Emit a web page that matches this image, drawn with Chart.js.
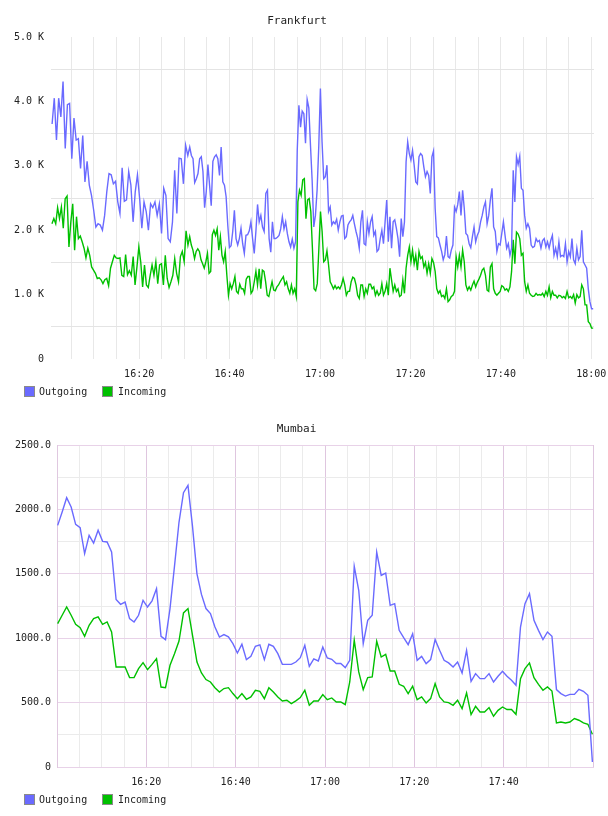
<!DOCTYPE html>
<html>
<head>
<meta charset="utf-8">
<script src="https://cdn.jsdelivr.net/npm/chart.js@4.4.1/dist/chart.umd.min.js"></script>
<style>
    body { margin: 0; background: #fff; width: 608px; height: 816px; position: relative; overflow: hidden; }
    .box { position: absolute; left: 0; width: 608px; height: 382px; }
    .legend { position: absolute; left: 24px; width: 200px; height: 12px; font: 10px "DejaVu Sans Mono", monospace; color: #222; will-change: transform; }
    .legend span { position: absolute; top: 0; white-space: nowrap; line-height: 12px; }
    .legend i { position: absolute; top: 0; width: 9px; height: 9px; border: 1px solid #8a8a8a; }
</style>
</head>
<body>
<div class="box" style="top:0"><canvas id="frankfurt" width="608" height="382"></canvas></div>
<div class="legend" style="top:386px">
    <i style="left:0;background:#6a6aff"></i><span style="left:15px">Outgoing</span>
    <i style="left:78px;background:#00c000"></i><span style="left:94px">Incoming</span>
</div>
<div class="box" style="top:408px"><canvas id="mumbai" width="608" height="382"></canvas></div>
<div class="legend" style="top:794px">
    <i style="left:0;background:#6a6aff"></i><span style="left:15px">Outgoing</span>
    <i style="left:78px;background:#00c000"></i><span style="left:94px">Incoming</span>
</div>
<script>
    // Frankfurt traffic in K, read in four half-hour stretches (minutes after 16:00 in frankfurtBounds)
    const frankfurtBounds = [0.5, 31.0, 61.0, 91.0, 120.6];
    const frankfurtOut1 = [3.65,4.05,3.40,4.05,3.76,4.31,3.27,3.95,3.97,3.11,3.74,3.40,3.42,2.96,3.47,2.75,3.07,2.70,2.54,2.31,2.05,2.10,2.08,2.00,2.23,2.60,2.88,2.86,2.72,2.76,2.44,2.26,2.97,2.45,2.47,2.91,2.70,2.13,2.60,2.86,2.49,2.03,2.44,2.29,2.00,2.41,2.35,2.44,2.23,2.41,1.95,2.65,2.54,1.87,1.82,2.13,2.93,2.26,3.12,3.11,2.72,3.32,3.16];
    const frankfurtOut2 = [3.29,3.16,3.11,2.74,2.80,2.88,3.11,3.14,2.91,2.35,2.60,3.02,2.70,2.38,3.07,3.14,3.17,3.11,2.85,3.29,2.75,2.70,2.52,2.08,1.73,1.76,1.98,2.31,1.87,1.77,1.87,2.03,1.79,1.64,1.92,1.93,1.99,2.13,1.87,1.64,1.98,2.40,2.13,2.23,2.05,1.98,2.57,2.62,1.87,1.66,2.13,1.87,1.87,1.89,1.92,2.02,2.21,2.02,2.13,1.95,1.82,1.74,1.86,1.72,1.82,3.24,3.94,3.60,3.85,3.81,3.35,4.03,3.90,3.32,2.78,2.05,2.23,2.62,3.29,4.20,3.37,2.80];
    const frankfurtOut3 = [2.83,3.01,2.29,2.36,2.08,2.13,2.10,2.17,2.00,2.13,2.22,2.23,1.87,1.90,2.08,2.13,2.16,2.23,2.10,1.98,1.88,1.72,2.13,2.31,1.79,1.77,2.13,1.95,2.13,2.21,1.92,1.98,1.67,1.70,1.87,2.00,1.79,2.13,2.47,1.82,2.21,1.72,2.13,2.16,2.03,1.87,1.59,2.18,1.90,2.13,3.06,3.37,3.19,3.09,3.24,3.01,2.75,2.72,3.14,3.19,3.16,2.98,2.83,2.91,2.85,2.57,3.14,3.23,2.34,1.90,1.88,1.77,1.67,1.54,1.62,1.91,1.59,1.57,1.69,1.77,2.36,2.29,2.40,2.60];
    const frankfurtOut4 = [2.23,2.62,2.34,1.95,1.92,1.79,1.73,1.90,2.05,1.82,1.92,1.98,2.13,2.23,2.36,2.44,2.10,2.23,2.47,2.65,2.05,1.98,1.67,1.79,1.77,1.95,2.13,1.92,1.72,1.79,1.61,1.72,2.93,2.44,3.14,3.02,3.15,2.65,2.62,2.23,2.03,2.10,2.03,1.77,1.73,1.75,1.87,1.82,1.84,1.72,1.84,1.87,1.74,1.82,1.72,1.84,1.92,1.61,1.72,1.59,1.82,1.59,1.61,1.59,1.79,1.51,1.67,1.59,1.87,1.54,1.48,1.72,1.54,1.59,2.00,1.51,1.46,1.41,1.09,0.89,0.78,0.78];
    const frankfurtIn1 = [2.10,2.18,2.10,2.35,2.18,2.36,2.03,2.49,2.53,1.74,2.13,2.41,1.69,2.21,1.87,1.91,1.82,1.72,1.57,1.72,1.61,1.43,1.38,1.33,1.25,1.26,1.23,1.17,1.23,1.25,1.14,1.41,1.51,1.61,1.57,1.56,1.57,1.30,1.28,1.62,1.31,1.37,1.30,1.59,1.15,1.43,1.74,1.51,1.12,1.46,1.15,1.11,1.30,1.46,1.30,1.51,1.17,1.46,1.48,1.15,1.61,1.25,1.11,1.20,1.30,1.56,1.33,1.20,1.59,1.67,1.51,1.99,1.77];
    const frankfurtIn2 = [1.90,1.77,1.69,1.56,1.67,1.71,1.67,1.54,1.48,1.41,1.51,1.64,1.33,1.36,1.93,2.00,1.92,2.02,1.69,1.90,1.61,1.51,1.67,1.30,0.99,1.17,1.09,1.17,1.28,1.05,1.02,1.16,1.09,1.09,1.02,1.24,1.28,1.28,1.02,1.06,1.20,1.36,1.15,1.40,1.09,1.38,1.36,1.20,0.99,0.97,1.09,1.20,1.07,1.06,1.12,1.15,1.20,1.24,1.28,1.15,1.20,1.09,1.02,1.15,1.02,1.09,0.97,2.44,2.62,2.54,2.78,2.80,2.18,2.47,2.49,2.29,1.72,1.09,1.06,1.17,1.72,2.29,1.98,1.51];
    const frankfurtIn3 = [1.54,1.68,1.46,1.20,1.15,1.09,1.14,1.09,1.12,1.09,1.15,1.25,1.15,0.99,1.05,1.05,1.20,1.27,1.25,1.15,0.99,0.94,1.15,1.15,0.97,1.09,1.02,1.16,1.16,1.09,1.12,0.99,1.06,0.99,1.02,1.17,0.99,1.05,1.17,0.99,1.41,1.23,1.05,1.15,1.05,1.09,0.97,0.99,1.23,1.02,1.41,1.61,1.74,1.51,1.69,1.48,1.61,1.38,1.67,1.56,1.59,1.43,1.50,1.33,1.48,1.33,1.56,1.50,1.36,1.09,1.02,1.06,0.97,0.99,0.94,1.09,0.89,0.92,0.97,0.99,1.05,1.59,1.43,1.61];
    const frankfurtIn4 = [1.43,1.69,1.51,1.15,1.07,1.12,1.07,1.15,1.21,1.12,1.19,1.24,1.30,1.38,1.41,1.30,1.07,1.05,1.43,1.48,1.09,1.02,0.99,1.02,1.05,1.14,1.12,1.07,1.09,1.05,1.12,1.36,1.85,1.48,1.97,1.94,1.87,1.61,1.64,1.20,1.05,1.15,1.02,0.99,0.97,0.98,1.02,0.99,1.00,0.99,1.02,0.97,1.05,0.99,1.12,0.95,1.05,0.99,0.99,0.95,0.99,0.98,0.95,0.97,0.94,1.05,0.95,0.97,0.94,1.00,0.87,1.00,0.95,0.97,1.15,1.09,0.84,0.84,0.58,0.55,0.48,0.48];
    const frankfurtTickLabels = ['16:20', '16:40', '17:00', '17:20', '17:40', '18:00'];

    // Mumbai traffic, one sample a minute from 16:00
    const mumbaiStart = 0.15, mumbaiStep = 1.006;
    const mumbaiOut = [1876,1980,2091,2019,1884,1859,1657,1799,1739,1838,1752,1747,1669,1300,1263,1281,1152,1126,1178,1294,1242,1290,1385,1015,989,1230,1560,1900,2130,2187,1870,1500,1340,1230,1191,1087,1009,1028,1010,958,885,953,834,859,937,948,834,953,937,880,797,797,797,815,849,945,782,839,823,932,846,836,803,803,772,828,1558,1372,958,1139,1178,1669,1488,1506,1255,1268,1061,1004,950,1035,828,859,803,834,989,906,828,808,776,815,730,906,665,725,686,686,725,660,704,743,704,673,634,1087,1268,1346,1139,1061,989,1048,1015,601,570,551,564,564,603,588,557,39];
    const mumbaiIn = [1113,1178,1242,1178,1108,1082,1015,1100,1152,1165,1108,1126,1048,776,776,776,694,694,764,810,756,797,841,621,616,790,880,978,1196,1230,1023,815,730,679,660,616,582,609,616,570,531,570,526,544,596,588,531,616,582,544,513,518,492,513,539,596,479,513,513,562,523,536,505,505,484,660,984,738,601,694,699,976,854,875,745,745,642,627,570,627,523,544,497,531,647,544,505,500,479,518,453,575,407,471,427,427,461,394,440,466,446,446,409,686,764,808,694,642,596,621,590,342,349,342,349,376,363,342,332,254];
    const mumbaiTickLabels = ['16:20', '16:40', '17:00', '17:20', '17:40'];

    const FONT = '"DejaVu Sans Mono", monospace';
    const BLUE = '#6a6aff';
    const GREEN = '#00c000';

    function segmentPoints(segments, bounds) {
        const pts = [];
        segments.forEach((vals, s) => {
            const a = bounds[s], step = (bounds[s + 1] - a) / vals.length;
            vals.forEach((v, j) => pts.push({ x: a + (j + 0.5) * step, y: v }));
        });
        return pts;
    }

    function minutePoints(vals) {
        return vals.map((v, i) => ({ x: mumbaiStart + i * mumbaiStep, y: v }));
    }

    function clockLabel(m) {
        const h = 16 + Math.floor(m / 60);
        const mm = Math.round(m % 60);
        return h + ':' + String(mm).padStart(2, '0');
    }

    function lineSet(label, data, color) {
        return { label: label, data: data, borderColor: color, borderWidth: 1.4, pointRadius: 0, tension: 0, fill: false };
    }

    function makeChart(id, title, datasets, xMin, xMax, tickLabels, yOpts, xGrid, yWidth, padRight) {
        return new Chart(document.getElementById(id), {
            type: 'line',
            data: { datasets: datasets },
            options: {
                responsive: false,
                animation: false,
                layout: { padding: { left: 0, right: padRight, top: 0, bottom: 0 } },
                plugins: {
                    legend: { display: false },
                    tooltip: { enabled: false },
                    title: { display: true, text: title, color: '#222', font: { family: FONT, size: 11, weight: 'normal' }, padding: { top: 15, bottom: 8.8 } }
                },
                scales: {
                    x: {
                        type: 'linear', min: xMin, max: xMax,
                        // keep the plot edge fixed; the last label may hang past it
                        afterFit: scale => { scale.height = 23; scale.paddingLeft = 0; scale.paddingRight = 0; },
                        border: xGrid.border,
                        grid: { drawTicks: false, color: xGrid.color, lineWidth: 1 },
                        ticks: {
                            stepSize: 5, includeBounds: false, autoSkip: false, maxRotation: 0, padding: 9,
                            color: '#222', font: { family: FONT, size: 10 },
                            callback: v => { const l = clockLabel(v); return tickLabels.includes(l) ? l : ''; }
                        }
                    },
                    y: Object.assign({
                        afterFit: scale => { scale.width = yWidth; }
                    }, yOpts)
                }
            }
        });
    }

    const isWhole = (v, n) => Math.abs(v / n - Math.round(v / n)) < 1e-6;

    makeChart('frankfurt', 'Frankfurt', [
        lineSet('Outgoing', segmentPoints([frankfurtOut1, frankfurtOut2, frankfurtOut3, frankfurtOut4], frankfurtBounds), BLUE),
        lineSet('Incoming', segmentPoints([frankfurtIn1, frankfurtIn2, frankfurtIn3, frankfurtIn4], frankfurtBounds), GREEN)
    ], 0.5, 120.6, frankfurtTickLabels, {
        min: 0, max: 5,
        border: { display: false },
        grid: { drawTicks: false, color: ctx => isWhole(ctx.tick.value, 1) ? 'rgba(0,0,0,0)' : '#e4e4e4' },
        ticks: {
            stepSize: 0.5, padding: 7, color: '#222', font: { family: FONT, size: 10 },
            callback: v => isWhole(v, 1) ? (v === 0 ? '0' : v.toFixed(1) + ' K') : ''
        }
    }, { border: { display: false }, color: '#e8e8e8' }, 51, 14);

    makeChart('mumbai', 'Mumbai', [
        lineSet('Outgoing', minutePoints(mumbaiOut), BLUE),
        lineSet('Incoming', minutePoints(mumbaiIn), GREEN)
    ], 0, 120, mumbaiTickLabels, {
        min: 0, max: 2500,
        border: { display: true, color: '#e0c8e0' },
        grid: { drawTicks: false, color: ctx => isWhole(ctx.tick.value, 500) ? '#e8d2e8' : '#ebebeb' },
        ticks: {
            stepSize: 250, padding: 6, color: '#222', font: { family: FONT, size: 10 },
            callback: v => isWhole(v, 500) ? (v === 0 ? '0' : v.toFixed(1)) : ''
        }
    }, { border: { display: true, color: '#e8d2e8' }, color: ctx => isWhole(ctx.tick.value, 20) ? '#dfc6df' : '#ebebeb' }, 57, 15);
</script>
</body>
</html>
